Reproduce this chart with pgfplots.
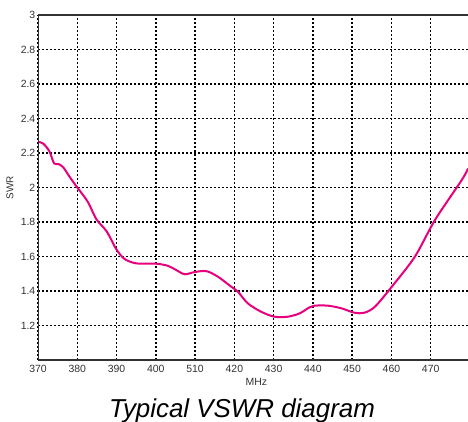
\documentclass[border=0pt]{standalone}
\usepackage{fontspec}
\setmainfont{Liberation Sans}
\usepackage{pgfplots}
\pgfplotsset{compat=1.18}
\definecolor{swrpink}{RGB}{230,0,126}
\definecolor{frame}{RGB}{50,50,50}
\begin{document}
\begin{tikzpicture}
\begin{axis}[
  name=ax,
  scale only axis,
  width=430bp, height=345bp,
  xmin=370, xmax=479.5,
  ymin=1, ymax=3,
  xtick={370,380,390,400,410,420,430,440,450,460,470},
  xticklabels={370,380,390,400,510,420,430,440,450,460,470},
  ytick={1.2,1.4,1.6,1.8,2,2.2,2.4,2.6,2.8,3},
  yticklabels={1.2,1.4,1.6,1.8,2,2.2,2.4,2.6,2.8,3},
  major tick length=0pt,
  axis line style={draw=none},
  grid=major,
  major grid style={black, line width=1.4bp, dash pattern=on 2bp off 2bp},
  ticklabel style={font=\fontsize{10.5}{12}\selectfont, text=black!80, inner sep=0pt},
  xticklabel style={yshift=-5bp},
  yticklabel style={xshift=-2.5bp},
  xlabel={MHz},
  ylabel={SWR},
  xlabel style={at={(axis description cs:0.508,0)}, anchor=north, inner sep=0pt,
    yshift=-18bp, font=\fontsize{10.5}{12}\selectfont, text=black!80},
  ylabel style={at={(axis description cs:-0.065,0.5)}, anchor=center, inner sep=0pt,
    font=\fontsize{10}{12}\selectfont, text=black!80},
]
\addplot[swrpink, line width=2bp, smooth, tension=0.5] coordinates {
  (370,2.265) (371.3,2.255) (372.9,2.21) (374.1,2.14) (375.3,2.135)
  (376.5,2.115) (378.1,2.06) (380,2.0) (382.6,1.92) (384.9,1.815)
  (387.5,1.745) (390,1.64) (392.1,1.585) (395.1,1.56) (400.2,1.558)
  (403.2,1.545) (405.3,1.52) (407.4,1.497) (409.9,1.51) (412.9,1.515)
  (415.8,1.483) (419.2,1.425) (420.9,1.396) (423.4,1.329) (426.8,1.28)
  (430.2,1.251) (433.6,1.251) (436.6,1.27) (439.1,1.305) (440.4,1.315)
  (443.8,1.315) (447.2,1.3) (450.6,1.274) (453.1,1.274) (455.8,1.309)
  (460.1,1.425) (466,1.6) (471.1,1.812) (477.9,2.043) (479.5,2.11)
};
\draw[frame, line width=1.6bp] (rel axis cs:1,1) -- (rel axis cs:0,1)
  -- (rel axis cs:0,0) -- (rel axis cs:1,0);
\end{axis}
\node[anchor=base, inner sep=0pt, font=\fontsize{26}{30}\selectfont\itshape]
  at ([xshift=-11bp, yshift=-57bp]ax.south) {Typical VSWR diagram};
\pgfresetboundingbox
\path[use as bounding box] ([xshift=-38bp, yshift=-62bp]ax.south west)
  rectangle ([yshift=15bp]ax.north east);
\end{tikzpicture}
\end{document}
